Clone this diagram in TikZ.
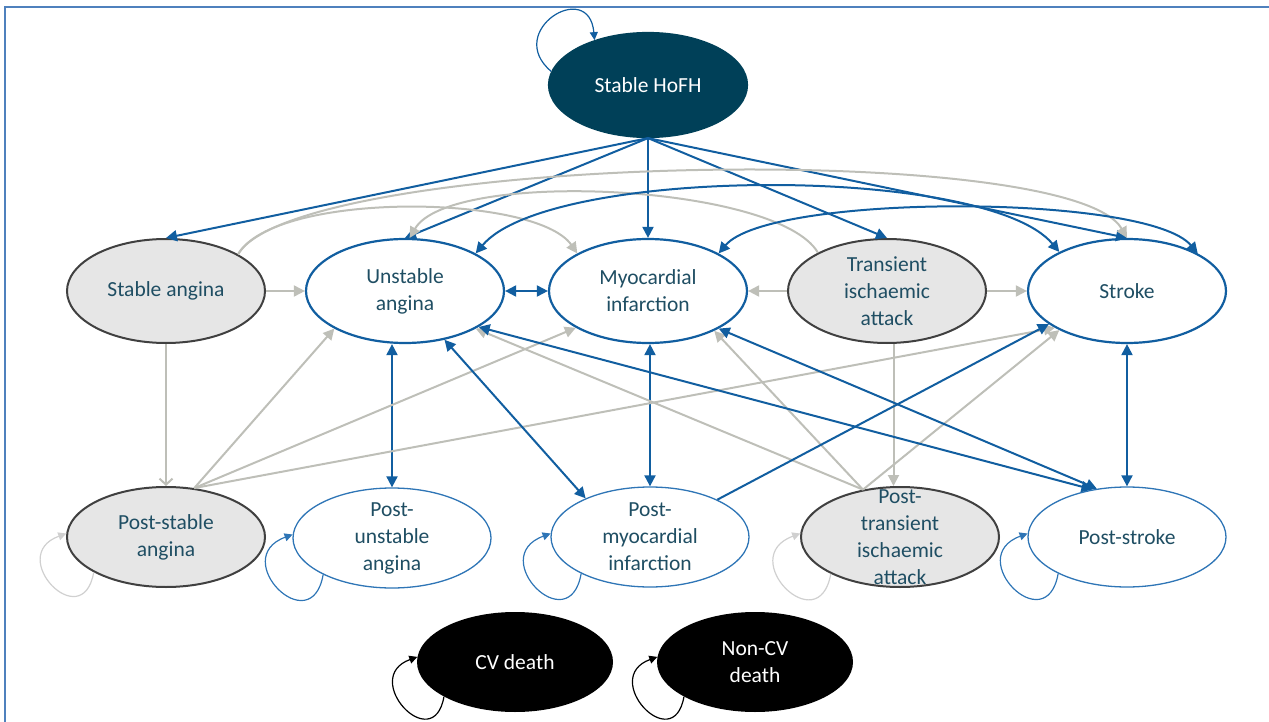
\documentclass[tikz,border=0pt]{standalone}
\usepackage{fontspec}
\setmainfont{Carlito}
\usetikzlibrary{shapes.geometric,arrows.meta}
\definecolor{hofhfill}{RGB}{0,64,88}
\definecolor{eblue}{RGB}{17,94,160}
\definecolor{lblue}{RGB}{46,117,182}
\definecolor{egrey}{RGB}{190,191,184}
\definecolor{lgrey}{RGB}{208,208,208}
\definecolor{gfill}{RGB}{230,230,230}
\definecolor{gline}{RGB}{64,64,64}
\definecolor{tteal}{RGB}{31,78,99}
\definecolor{frameblue}{RGB}{79,129,189}
\tikzset{
  >={Triangle[length=11pt,width=11pt]},
  mainstate/.style={ellipse,inner sep=0pt,minimum width=198pt,minimum height=104pt,draw=eblue,line width=2.2pt,fill=white},
  poststate/.style={ellipse,inner sep=0pt,minimum width=198pt,minimum height=100pt,draw=lblue,line width=1.3pt,fill=white},
  greystate/.style={fill=gfill,draw=gline,line width=2pt},
  deathstate/.style={ellipse,inner sep=0pt,minimum width=196pt,minimum height=100pt,fill=black},
  lbl/.style={text=tteal,font=\fontsize{21.5}{27}\selectfont,align=center},
  blueedge/.style={eblue,line width=2pt},
  greyedge/.style={egrey,line width=2pt},
  selfloop/.style={line width=1.2pt,-{Triangle[length=8pt,width=8pt]}}
}
\begin{document}
\begin{tikzpicture}[x=1pt,y=-1pt]
\useasboundingbox (0,0) rectangle (1269,722);
\draw[frameblue,line width=2.5pt] (5,722) -- (5,7) -- (1269,7);

% states
\node[mainstate,fill=hofhfill,draw=hofhfill,label={[lbl,text=white]center:Stable HoFH}] (hofh) at (648,85) {};
\node[mainstate,greystate,label={[lbl]center:Stable angina}] (sa) at (166,291) {};
\node[mainstate,label={[lbl]center:Unstable\\angina}] (ua) at (405,291) {};
\node[mainstate,label={[lbl]center:Myocardial\\infarction}] (mi) at (648,291) {};
\node[mainstate,greystate,label={[lbl]center:Transient\\ischaemic\\attack}] (tia) at (887,291) {};
\node[mainstate,label={[lbl]center:Stroke}] (st) at (1127,291) {};
\node[poststate,greystate,label={[lbl]center:Post-stable\\angina}] (psa) at (166,537) {};
\node[poststate,label={[lbl]center:Post-\\unstable\\angina}] (pua) at (392,538) {};
\node[poststate,label={[lbl]center:Post-\\myocardial\\infarction}] (pmi) at (650,537) {};
\node[poststate,greystate,label={[lbl]center:Post-\\transient\\ischaemic\\attack}] (ptia) at (900,537) {};
\node[poststate,label={[lbl]center:Post-stroke}] (pst) at (1127,537) {};
\node[deathstate,label={[lbl,text=white]center:CV death}] (cvd) at (515,662) {};
\node[deathstate,label={[lbl,text=white]center:Non-CV\\death}] (ncvd) at (755,662) {};

% from stable HoFH
\foreach \dest in {sa,ua,mi,tia,st}
  \draw[blueedge,->] (hofh.south) -- (\dest.north);

% arcs above the middle row
\draw[greyedge,->] (sa.27) to[out=60,in=120,looseness=0.33] (st.north);
\draw[greyedge,->] (sa.27) to[out=60,in=125,looseness=0.55] (mi.152);
\draw[greyedge,->] (tia.151) to[out=120,in=60,looseness=0.5] (ua.85);
\draw[blueedge,<->] (ua.28) to[out=50,in=130,looseness=0.5] (st.150);
\draw[blueedge,<->] (mi.28) to[out=50,in=130,looseness=0.42] (st.28);

% middle row
\draw[greyedge,->] (sa.east) -- (ua.west);
\draw[blueedge,<->] (ua.east) -- (mi.west);
\draw[greyedge,->] (tia.west) -- (mi.east);
\draw[greyedge,->] (tia.east) -- (st.west);

% down to the post states
\draw[greyedge,-{Straight Barb[length=6pt,width=13pt]}] (sa.south) -- (psa.north);
\draw[blueedge,<->] (pua.north |- ua.south) -- (pua.north);
\draw[blueedge,<->] (pmi.north |- mi.south) -- (pmi.north);
\draw[greyedge,->] (tia.-83) -- (tia.-83 |- ptia.north);
\draw[blueedge,<->] (st.south) -- (pst.north);

% crossing lines
\draw[greyedge,->] (psa.60) -- (ua.208);
\draw[greyedge,->] (psa.60) -- (mi.207);
\draw[greyedge,->] (psa.60) -- (st.207);
\draw[greyedge,->] (ptia.128) -- (ua.-28);
\draw[greyedge,->] (ptia.128) -- (mi.-31);
\draw[greyedge,->] (ptia.128) -- (st.210);
\draw[blueedge,<->] (ua.-51) -- (pmi.149);
\draw[blueedge,<->] (ua.-26) -- (pst.126);
\draw[blueedge,<->] (mi.-28) -- (pst.122);
\draw[blueedge,->] (pmi.29) -- (st.203);

% self loops
\draw[selfloop,eblue] (hofh.172) to[out=140,in=95,looseness=3] (hofh.140);
\draw[selfloop,lgrey] (psa.206) to[out=260,in=200,looseness=3.5] (psa.178);
\draw[selfloop,lblue] (pua.208) to[out=260,in=200,looseness=3.5] (pua.178);
\draw[selfloop,lblue] (pmi.208) to[out=260,in=200,looseness=3.5] (pmi.178);
\draw[selfloop,lgrey] (ptia.208) to[out=260,in=200,looseness=3.5] (ptia.178);
\draw[selfloop,lblue] (pst.208) to[out=260,in=200,looseness=3.5] (pst.178);
\draw[selfloop,black] (cvd.206) to[out=260,in=200,looseness=3.3] (cvd.177);
\draw[selfloop,black] (ncvd.206) to[out=260,in=200,looseness=3.3] (ncvd.177);
\end{tikzpicture}
\end{document}
